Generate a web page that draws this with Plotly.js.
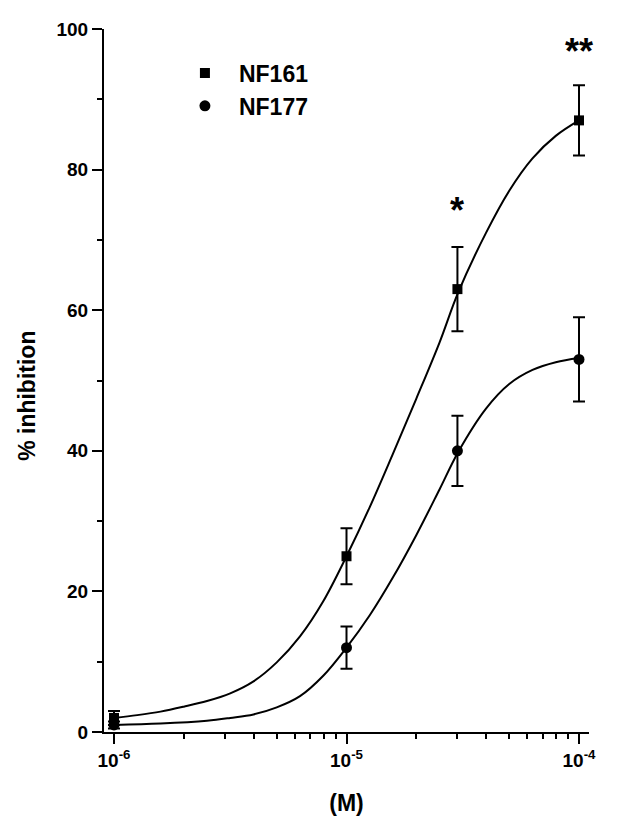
<!DOCTYPE html>
<html>
<head>
<meta charset="utf-8">
<script src="https://cdn.plot.ly/plotly-3.0.1.min.js"></script>
<style>html,body{margin:0;padding:0;background:#fff;}#chart{width:628px;height:816px;}</style>
</head>
<body>
<div id="chart"></div>
<script>
// Measured points
var concentrations = [1e-6, 1e-5, 3e-5, 1e-4];
var nf161 = [2, 25, 63, 87];
var nf161Err = [1, 4, 6, 5];
var nf177 = [1, 12, 40, 53];
var nf177Err = [0.5, 3, 5, 6];

// Fitted curves (log10 concentration, % inhibition)
var fitLogX161 = [-6.0, -5.9, -5.8, -5.7, -5.6, -5.5, -5.4, -5.3, -5.2, -5.1, -5.0, -4.9, -4.8, -4.7, -4.6, -4.52, -4.4, -4.3, -4.2, -4.1, -4.0];
var fit161 = [2.0, 2.4, 2.9, 3.6, 4.4, 5.5, 7.2, 9.9, 13.6, 18.6, 25.0, 32.0, 39.6, 47.4, 55.4, 62.5, 71.0, 77.0, 81.6, 84.8, 87.0];
var fitLogX177 = [-6.0, -5.8, -5.6, -5.5, -5.4, -5.3, -5.2, -5.1, -5.0, -4.9, -4.8, -4.7, -4.6, -4.52, -4.4, -4.3, -4.2, -4.1, -4.0];
var fit177 = [1.0, 1.2, 1.6, 2.0, 2.5, 3.5, 5.1, 8.0, 12.0, 16.6, 22.0, 28.0, 34.5, 39.8, 46.0, 49.5, 51.5, 52.6, 53.2];

var tickVals = [1e-6, 1e-5, 1e-4];
var tickText = ['10<sup>-6</sup>', '10<sup>-5</sup>', '10<sup>-4</sup>'];
var minorVals = [2e-6,3e-6,4e-6,5e-6,6e-6,7e-6,8e-6,9e-6,2e-5,3e-5,4e-5,5e-5,6e-5,7e-5,8e-5,9e-5];
var seriesNames = ['NF161', 'NF177'];
var starLabels = ['*', '**'];
var starX = [3e-5, 1e-4];
var starY = [74.2, 96.8];
var yTitle = '% inhibition';
var xTitle = '(M)';

function pow10(a){ return a.map(function(v){ return Math.pow(10, v); }); }

var FONT = 'Liberation Sans, Arial, sans-serif';
var traces = [
  {x: pow10(fitLogX161), y: fit161, mode: 'lines', line: {color: '#000', width: 2, shape: 'spline', smoothing: 1}, showlegend: false, hoverinfo: 'skip'},
  {x: pow10(fitLogX177), y: fit177, mode: 'lines', line: {color: '#000', width: 2, shape: 'spline', smoothing: 1}, showlegend: false, hoverinfo: 'skip'},
  {x: concentrations, y: nf161, name: seriesNames[0], mode: 'markers',
   marker: {symbol: 'square', size: 10, color: '#000'},
   error_y: {type: 'data', array: nf161Err, visible: true, color: '#000', thickness: 2, width: 6}},
  {x: concentrations, y: nf177, name: seriesNames[1], mode: 'markers',
   marker: {symbol: 'circle', size: 11, color: '#000'},
   error_y: {type: 'data', array: nf177Err, visible: true, color: '#000', thickness: 2, width: 6}}
];

var annotations = starLabels.map(function(s, i){
  return {x: Math.log10(starX[i]), y: starY[i], xref: 'x', yref: 'y', text: s, showarrow: false,
          xanchor: 'center', yanchor: 'middle', font: {family: FONT, size: 36, color: '#000', weight: 'bold'}};
});
annotations.push({x: -0.159, y: 0.478, xref: 'paper', yref: 'paper', text: yTitle, textangle: -90,
  showarrow: false, xanchor: 'center', yanchor: 'middle', font: {family: FONT, size: 23, color: '#000', weight: 'bold'}});

var layout = {
  width: 628, height: 816,
  margin: {l: 104, r: 39, t: 29, b: 84},
  paper_bgcolor: '#fff', plot_bgcolor: '#fff',
  font: {family: FONT, color: '#000', weight: 'bold'},
  showlegend: true,
  legend: {x: 0.138, y: 0.968, xanchor: 'left', yanchor: 'top', bgcolor: 'rgba(0,0,0,0)',
           font: {family: FONT, size: 23, color: '#000', weight: 'bold'},
           traceorder: 'normal', itemwidth: 58, itemsizing: 'trace'},
  xaxis: {type: 'log', range: [-6.043, -3.957], showgrid: false, zeroline: false,
          showline: true, linecolor: '#000', linewidth: 2,
          ticks: 'outside', ticklen: 10, tickwidth: 2, tickcolor: '#000',
          tickmode: 'array', tickvals: tickVals, ticktext: tickText,
          tickfont: {family: FONT, size: 19, color: '#000', weight: 'bold'},
          minor: {tickmode: 'array', tickvals: minorVals, ticks: 'outside', ticklen: 5, tickwidth: 2, tickcolor: '#000', showgrid: false},
          title: {text: xTitle, font: {family: FONT, size: 23, color: '#000', weight: 'bold'}, standoff: 34}},
  yaxis: {range: [0, 100], showgrid: false, zeroline: false,
          showline: true, linecolor: '#000', linewidth: 2,
          ticks: 'outside', ticklen: 10, tickwidth: 2, tickcolor: '#000',
          tickmode: 'linear', tick0: 0, dtick: 20,
          tickfont: {family: FONT, size: 19, color: '#000', weight: 'bold'},
          minor: {tickmode: 'linear', tick0: 0, dtick: 10, ticks: 'outside', ticklen: 5, tickwidth: 2, tickcolor: '#000', showgrid: false}},
  annotations: annotations
};

Plotly.newPlot('chart', traces, layout, {displayModeBar: false, staticPlot: true});
</script>
</body>
</html>
